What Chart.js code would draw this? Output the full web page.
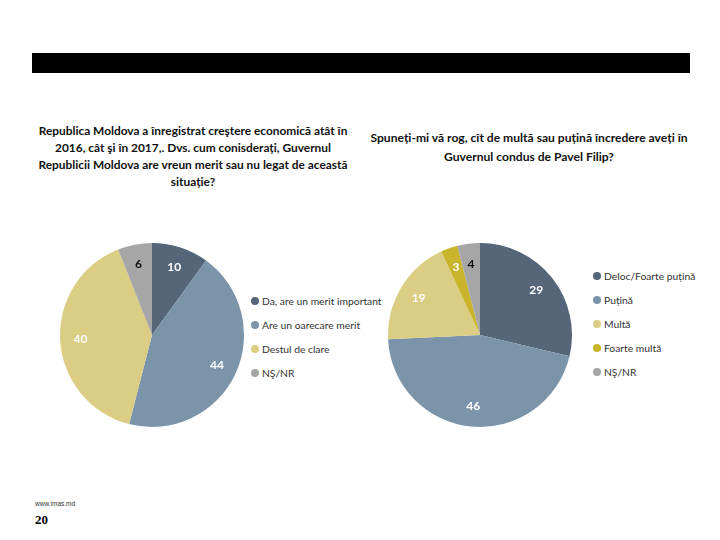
<!DOCTYPE html>
<html><head><meta charset="utf-8">
<script src="https://cdn.jsdelivr.net/npm/chart.js@4"></script>
<style>
body{margin:0;width:720px;height:540px;background:#fff;position:relative;font-family:Lato,"Open Sans",sans-serif;overflow:hidden}
.bar{position:absolute;left:32px;top:53px;width:658px;height:20px;background:#000}
.title{position:absolute;font-weight:bold;font-size:11.9px;line-height:17px;text-align:center;color:#111}
.cv{position:absolute;width:186px;height:186px}
.legend{position:absolute;font-size:10.3px;color:#333}
.legend div{position:relative;height:24px;line-height:14px;padding-left:11px;white-space:nowrap}
.legend span{position:absolute;left:0;top:3px;width:8px;height:8px;border-radius:50%}
.url{position:absolute;left:35px;top:500px;font-size:6.5px;color:#333;font-family:"Liberation Sans",sans-serif}
.pg{position:absolute;left:35px;top:512px;font-size:13px;font-weight:bold;font-family:"Liberation Serif",serif}
</style></head><body>
<div class="bar"></div>
<div class="title" id="t1" style="left:23px;top:122px;width:340px"></div>
<div class="title" id="t2" style="left:344px;top:128px;width:370px;font-size:12.1px;line-height:19px"></div>
<div class="cv" style="left:59px;top:242px"><canvas id="c1" width="186" height="186"></canvas></div>
<div class="cv" style="left:387px;top:242px"><canvas id="c2" width="186" height="186"></canvas></div>
<div class="legend" id="l1" style="left:251px;top:294px"></div>
<div class="legend" id="l2" style="left:593px;top:269px"></div>
<div class="url">www.imas.md</div>
<div class="pg">20</div>
<script>
const title1 = ["Republica Moldova a înregistrat creştere economică atât în","2016, cât şi în 2017,. Dvs. cum conisderați, Guvernul","Republicii Moldova are vreun merit sau nu legat de această","situație?"];
const title2 = ["Spuneți-mi vă rog, cît de multă sau puțină încredere aveți în","Guvernul condus de Pavel Filip?"];
const labels1 = ["Da, are un merit important","Are un oarecare merit","Destul de clare","NŞ/NR"];
const values1 = [10,44,40,6];
const colors1 = ["#55657a","#7b94aa","#dccd84","#a6a6a6"];
const textColors1 = ["#fff","#fff","#fff","#111"];
const labels2 = ["Deloc/Foarte puțină","Puțină","Multă","Foarte multă","NŞ/NR"];
const values2 = [29,46,19,3,4];
const colors2 = ["#55657a","#7b94aa","#dccd84","#c9b52c","#a6a6a6"];
const textColors2 = ["#fff","#fff","#fff","#fff","#111"];

document.getElementById('t1').innerHTML = title1.join('<br>');
document.getElementById('t2').innerHTML = title2.join('<br>');
function legend(id, labels, colors){
  const el=document.getElementById(id);
  labels.forEach((l,i)=>{const d=document.createElement('div');d.innerHTML='<span style="background:'+colors[i]+'"></span>'+l;el.appendChild(d);});
}
legend('l1',labels1,colors1);legend('l2',labels2,colors2);

const valuePlugin = {
  id:'vals',
  afterDatasetsDraw(chart){
    const ctx=chart.ctx; const meta=chart.getDatasetMeta(0);
    const tc=chart.options.plugins.vals.colors;
    ctx.save();ctx.font='bold 12px Lato, sans-serif';ctx.textAlign='center';ctx.textBaseline='middle';
    meta.data.forEach((a,i)=>{
      const p=a.getProps(['x','y','startAngle','endAngle','outerRadius'],true);
      const m=(p.startAngle+p.endAngle)/2, r=p.outerRadius*0.78;
      ctx.fillStyle=tc[i];
      ctx.fillText(String(chart.data.datasets[0].data[i]),p.x+Math.cos(m)*r,p.y+Math.sin(m)*r);
    });
    ctx.restore();
  }
};
function pie(id, labels, values, colors, tcolors){
  new Chart(document.getElementById(id),{
    type:'pie',
    data:{labels:labels,datasets:[{data:values,backgroundColor:colors,borderWidth:0}]},
    options:{responsive:false,animation:false,layout:{padding:1},
      plugins:{legend:{display:false},tooltip:{enabled:false},vals:{colors:tcolors}}},
    plugins:[valuePlugin]
  });
}
pie('c1',labels1,values1,colors1,textColors1);
pie('c2',labels2,values2,colors2,textColors2);
</script>
</body></html>
